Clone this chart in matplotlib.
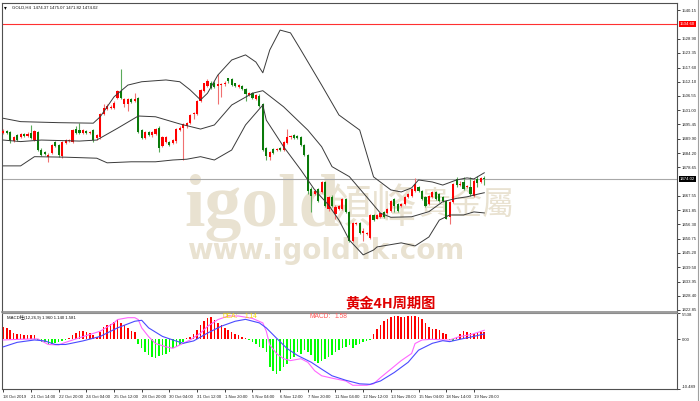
import matplotlib
matplotlib.use("Agg")
import matplotlib.pyplot as plt

plt.rcParams['font.family'] = ['Liberation Sans', 'Noto Sans CJK SC']

W, H = 700, 401

# GOLD H4 candles, oldest first
opens = [1491.9, 1492.7, 1492.3, 1488.9, 1491.2, 1490.4, 1491.5, 1490.8, 1491.9, 1489.3,
         1492.3, 1485.4, 1484.7, 1482.7, 1484.3, 1488.5, 1487.3, 1483.1, 1488.1, 1488.9,
         1488.5, 1493.8, 1493.1, 1491.9, 1492.7, 1491.9, 1493.1, 1490.0, 1490.4, 1499.6,
         1501.5, 1501.9, 1501.9, 1505.7, 1508.4, 1503.4, 1503.4, 1505.3, 1504.6, 1505.7,
         1493.1, 1490.0, 1492.3, 1491.2, 1491.5, 1494.2, 1487.0, 1488.5, 1488.5, 1488.1,
         1488.9, 1493.1, 1494.2, 1494.6, 1495.8, 1499.6, 1499.6, 1504.6, 1508.4, 1510.3,
         1511.8, 1511.8, 1510.3, 1510.7, 1511.1, 1513.4, 1513.0, 1511.5, 1509.9, 1510.3,
         1509.2, 1506.9, 1507.6, 1505.3, 1506.5, 1503.4, 1486.2, 1482.7, 1485.8, 1485.4,
         1486.2, 1485.4, 1488.1, 1490.4, 1491.2, 1490.8, 1490.4, 1487.3, 1483.5, 1470.1,
         1468.2, 1470.1, 1469.0, 1472.8, 1462.5, 1467.1, 1460.2, 1462.5, 1462.5, 1466.3,
         1461.3, 1449.8, 1456.3, 1456.7, 1452.9, 1452.5, 1451.0, 1459.8, 1458.6, 1459.4,
         1461.3, 1460.6, 1461.7, 1466.3, 1464.4, 1463.6, 1464.4, 1467.1, 1467.4, 1469.4,
         1470.9, 1469.4, 1467.1, 1464.4, 1467.1, 1469.0, 1468.2, 1467.1, 1465.5, 1459.4,
         1465.1, 1473.9, 1471.6, 1472.8, 1470.9, 1470.9, 1467.4, 1473.9, 1472.8, 1474.37]
highs = [1493.5, 1493.1, 1492.7, 1490.8, 1491.5, 1491.9, 1491.9, 1492.3, 1495.0, 1493.1,
         1492.7, 1486.2, 1485.0, 1484.3, 1487.7, 1488.9, 1487.7, 1488.9, 1489.6, 1489.6,
         1493.8, 1494.6, 1496.1, 1493.5, 1493.1, 1492.7, 1493.5, 1491.5, 1500.0, 1503.4,
         1503.4, 1503.0, 1504.6, 1508.8, 1517.2, 1505.7, 1505.7, 1505.7, 1507.6, 1506.1,
         1493.8, 1492.7, 1492.7, 1492.7, 1494.2, 1494.6, 1490.8, 1490.8, 1488.9, 1489.6,
         1494.2, 1494.6, 1496.1, 1496.5, 1499.6, 1500.4, 1504.9, 1509.2, 1511.8, 1513.0,
         1512.2, 1512.2, 1515.3, 1511.8, 1512.2, 1513.7, 1513.7, 1511.8, 1511.1, 1510.7,
         1509.5, 1508.0, 1508.0, 1507.2, 1507.2, 1503.8, 1486.6, 1485.0, 1486.2, 1486.2,
         1486.6, 1488.9, 1493.8, 1491.2, 1491.5, 1491.2, 1490.8, 1487.7, 1483.9, 1470.9,
         1470.1, 1470.5, 1473.2, 1473.2, 1467.4, 1467.8, 1464.0, 1464.0, 1466.7, 1466.7,
         1461.7, 1457.1, 1457.1, 1457.1, 1454.8, 1453.3, 1460.2, 1460.2, 1460.2, 1460.9,
         1461.7, 1462.9, 1465.9, 1466.7, 1464.8, 1464.8, 1467.4, 1468.6, 1470.5, 1474.3,
         1471.3, 1469.7, 1467.4, 1467.8, 1469.4, 1469.4, 1468.6, 1467.4, 1465.9, 1465.5,
         1472.4, 1474.7, 1473.2, 1474.7, 1471.6, 1474.7, 1473.9, 1475.1, 1474.7, 1475.07]
lows = [1491.5, 1491.5, 1488.1, 1488.5, 1488.9, 1490.0, 1490.4, 1490.4, 1489.6, 1488.9,
        1485.0, 1483.1, 1483.5, 1480.8, 1483.9, 1486.6, 1482.7, 1482.4, 1487.7, 1488.5,
        1488.1, 1491.5, 1491.5, 1491.5, 1491.5, 1491.5, 1488.5, 1489.3, 1489.6, 1499.2,
        1501.1, 1501.5, 1501.5, 1505.3, 1505.3, 1502.3, 1500.7, 1503.8, 1504.2, 1491.9,
        1489.6, 1489.6, 1490.8, 1490.4, 1491.2, 1484.7, 1486.6, 1488.1, 1487.0, 1487.7,
        1488.1, 1492.7, 1481.6, 1494.2, 1495.4, 1497.7, 1499.2, 1504.2, 1508.0, 1509.9,
        1509.2, 1509.5, 1503.4, 1506.1, 1510.3, 1511.8, 1510.3, 1509.9, 1509.5, 1508.8,
        1504.6, 1506.5, 1505.3, 1504.9, 1502.3, 1485.0, 1481.6, 1481.6, 1483.9, 1485.0,
        1485.0, 1485.0, 1487.7, 1489.6, 1489.6, 1489.6, 1487.0, 1483.1, 1468.2, 1461.3,
        1467.8, 1465.1, 1468.6, 1463.2, 1461.7, 1463.2, 1458.6, 1462.1, 1462.1, 1460.9,
        1449.5, 1449.5, 1456.0, 1452.5, 1449.8, 1452.1, 1450.6, 1457.5, 1458.3, 1459.0,
        1459.0, 1460.2, 1461.3, 1461.3, 1461.3, 1463.2, 1464.0, 1466.7, 1467.1, 1469.0,
        1469.0, 1465.9, 1463.2, 1464.0, 1466.7, 1465.9, 1465.1, 1465.1, 1458.3, 1456.3,
        1464.8, 1470.9, 1471.3, 1469.7, 1470.5, 1467.4, 1467.1, 1470.9, 1472.4, 1471.82]
closes = [1492.7, 1491.9, 1488.9, 1490.4, 1489.3, 1491.5, 1490.8, 1491.5, 1490.0, 1492.7,
          1485.4, 1483.5, 1483.9, 1483.5, 1487.3, 1487.0, 1483.5, 1488.5, 1489.3, 1489.3,
          1493.1, 1491.9, 1491.9, 1493.1, 1491.9, 1492.3, 1489.3, 1491.2, 1499.6, 1501.9,
          1502.6, 1502.3, 1503.8, 1508.4, 1505.7, 1505.3, 1505.3, 1504.2, 1505.3, 1492.3,
          1490.0, 1492.3, 1491.2, 1492.3, 1493.8, 1486.2, 1490.4, 1490.4, 1487.3, 1489.3,
          1493.5, 1494.2, 1495.4, 1496.1, 1499.2, 1500.0, 1504.6, 1508.8, 1511.5, 1512.2,
          1509.5, 1509.9, 1511.1, 1511.1, 1511.8, 1512.2, 1510.7, 1510.3, 1510.7, 1509.2,
          1507.2, 1507.6, 1505.7, 1506.9, 1502.6, 1485.4, 1483.1, 1484.7, 1484.3, 1485.8,
          1485.4, 1488.5, 1490.4, 1490.8, 1490.0, 1490.0, 1487.3, 1483.5, 1469.4, 1467.4,
          1469.4, 1465.5, 1472.8, 1463.6, 1467.1, 1463.6, 1463.2, 1463.6, 1466.3, 1461.3,
          1449.8, 1456.7, 1456.7, 1452.9, 1453.7, 1452.9, 1459.8, 1457.9, 1459.8, 1460.6,
          1459.4, 1462.5, 1465.5, 1463.6, 1461.7, 1464.4, 1467.1, 1468.2, 1470.1, 1472.0,
          1469.4, 1466.3, 1463.6, 1467.4, 1469.0, 1466.3, 1465.5, 1465.5, 1458.6, 1465.1,
          1472.0, 1471.6, 1472.0, 1470.1, 1471.3, 1468.2, 1473.2, 1472.4, 1474.3, 1474.02]

# Bollinger bands (20, 2) at sample bars
bb_up_idx = [0, 5, 16, 26, 28, 32, 36, 40, 47, 51, 54, 57, 59, 62, 66, 70, 73, 75, 77, 80,
             83, 86, 92, 97, 103, 107, 112, 115, 118, 120, 124, 127, 131, 134, 136, 139]
bb_up = [1497.8, 1496.5, 1496.1, 1495.9, 1498.4, 1506.2, 1510.8, 1512.1, 1512.8, 1512.1,
         1508.9, 1505.0, 1507.6, 1514.7, 1520.6, 1522.6, 1519.8, 1515.6, 1524.5, 1532.3,
         1531.2, 1524.5, 1510.8, 1499.1, 1493.2, 1474.9, 1469.8, 1469.0, 1470.6, 1473.7,
         1472.9, 1471.7, 1473.7, 1474.5, 1474.1, 1476.5]
bb_mid_idx = [0, 5, 11, 22, 27, 33, 39, 44, 51, 57, 61, 66, 72, 75, 81, 88, 92, 95, 100,
              105, 109, 112, 118, 123, 127, 131, 134, 137, 139]
bb_mid = [1489.3, 1488.7, 1489.3, 1488.9, 1489.3, 1493.9, 1498.7, 1498.4, 1495.6, 1493.6,
          1495.2, 1503.0, 1507.6, 1508.6, 1502.3, 1493.2, 1486.7, 1478.9, 1475.0, 1467.1,
          1460.7, 1459.1, 1459.3, 1461.3, 1465.2, 1466.5, 1467.1, 1468.1, 1468.7]
bb_low_idx = [0, 5, 9, 18, 27, 30, 37, 44, 49, 53, 57, 61, 66, 70, 75, 76, 81, 86, 90,
              94, 97, 100, 104, 107, 108, 115, 119, 123, 126, 129, 133, 136, 139]
bb_low = [1479.2, 1479.2, 1482.8, 1482.6, 1482.2, 1480.4, 1480.8, 1480.8, 1481.5, 1481.8,
          1482.8, 1481.5, 1485.4, 1495.2, 1503.0, 1497.1, 1486.7, 1477.6, 1469.8, 1463.9,
          1458.0, 1450.2, 1444.4, 1446.3, 1447.5, 1449.1, 1447.9, 1451.4, 1458.0, 1460.0,
          1460.0, 1461.2, 1460.8]

# MACD histogram, one value per candle
macd_hist = [2.5, 2.4, 2.0, 1.3, 1.1, 1.1, 0.95, 0.8, 0.95, 0.95,
             -0.25, -0.5, -0.65, -0.9, -0.9, -0.7, -0.5, -0.35, -0.1, 0.35,
             0.8, 1.3, 1.7, 1.8, 1.5, 1.3, 0.8, 0.55, 1.5, 2.5,
             3.0, 3.25, 3.7, 4.0, 3.45, 3.0, 2.4, 1.8, 1.5, -1.1,
             -1.9, -2.65, -3.35, -3.75, -3.95, -3.5, -3.35, -3.05, -2.65, -1.8,
             -1.6, -1.2, -0.65, 0.2, 0.55, 1.1, 2.0, 3.1, 3.85, 4.55,
             4.7, 4.15, 3.45, 3.0, 2.4, 2.0, 1.5, 1.1, 0.95, 0.55,
             0.2, -0.15, -0.5, -1.1, -1.6, -1.8, -2.65, -5.9, -6.65, -7.35,
             -6.65, -5.9, -5.2, -4.1, -3.75, -2.65, -3.05, -2.3, -2.65, -3.35,
             -4.5, -5.0, -4.5, -4.1, -3.75, -3.35, -2.65, -2.3, -1.9, -1.6,
             -1.2, -1.75, -1.2, -0.9, -0.5, -0.3, -0.15, 1.15, 2.15, 3.1,
             3.85, 4.3, 4.75, 4.9, 4.9, 4.75, 4.75, 4.9, 4.9, 4.9,
             4.75, 4.3, 3.45, 2.6, 2.15, 2.15, 1.9, 1.3, 1.15, -0.15,
             -0.3, 0.55, 1.15, 1.7, 1.45, 1.3, 1.15, 1.3, 1.45, 1.58]
# MACD lines read at sample bars
macd_idx = [0, 5, 10, 13, 16, 18, 23, 28, 32, 33, 36, 38, 39, 40, 42, 44, 47, 49, 51, 54,
            57, 59, 62, 65, 68, 72, 75, 76, 77, 79, 81, 83, 86, 88, 90, 92, 95, 99, 101,
            105, 107, 109, 112, 115, 118, 119, 121, 124, 127, 129, 132, 135, 138, 139]
macd_line = [-0.15, 0.0, 0.07, -1.1, -1.2, -0.65, 0.55, 1.7, 3.45, 4.15, 4.55, 4.55, 4.15,
             2.4, 0.55, -0.9, -1.6, -1.9, -1.2, -0.15, 1.3, 2.7, 4.15, 4.9, 4.9, 4.4, 3.45,
             1.7, -1.2, -3.05, -4.1, -4.5, -4.1, -4.85, -6.65, -7.7, -8.2, -8.8, -9.7,
             -9.7, -9.4, -8.1, -6.3, -4.5, -3.0, -0.9, -0.15, 0.0, -0.15, -0.15, 0.6, 0.95,
             1.65, 1.9]
sig_idx = [0, 4, 9, 12, 15, 18, 23, 28, 33, 38, 40, 42, 46, 49, 52, 55, 59, 63, 67, 70,
           74, 76, 79, 82, 85, 89, 92, 95, 99, 103, 106, 109, 113, 117, 120, 124, 127,
           129, 132, 135, 138, 139]
sig_line = [-1.6, -0.65, -0.15, -0.35, -1.1, -1.1, -0.35, 0.6, 2.4, 3.8, 4.0, 2.4, 0.6,
            -0.15, -0.85, -0.35, 1.3, 2.75, 3.8, 4.2, 3.45, 2.4, 0.2, -1.95, -3.4, -4.85,
            -6.3, -7.7, -8.65, -9.4, -9.5, -8.8, -7.0, -4.85, -2.3, -0.85, -0.3, -0.5,
            0.0, 0.45, 0.95, 1.1]

date_labels = ['18 Oct 2019', '21 Oct 14:00', '22 Oct 20:00', '24 Oct 04:00', '25 Oct 12:00',
               '28 Oct 20:00', '30 Oct 04:00', '31 Oct 12:00', '1 Nov 20:00', '5 Nov 04:00',
               '6 Nov 12:00', '7 Nov 20:00', '11 Nov 04:00', '12 Nov 12:00', '13 Nov 20:00',
               '15 Nov 04:00', '18 Nov 14:00', '19 Nov 20:00']
price_ticks = [1540.15, 1528.90, 1523.35, 1517.60, 1512.10, 1506.55, 1501.00, 1495.45,
               1489.90, 1484.20, 1478.65, 1467.55, 1461.85, 1456.30, 1450.75, 1445.20,
               1439.50, 1433.95, 1428.40, 1422.85]
alert_price = 1534.60
last_price = 1474.02

UP = '#ff0000'
DOWN = '#0a7a0a'
SMALL = 3.1

fig = plt.figure(figsize=(W / 100, H / 100), dpi=100)
fig.patch.set_facecolor('white')


def fbox(x0, y0, x1, y1):
    # pixel box (top-left origin) -> figure fraction rect
    return [x0 / W, 1 - y1 / H, (x1 - x0) / W, (y1 - y0) / H]


ax = fig.add_axes(fbox(2, 3, 677, 311.7))
mx = fig.add_axes(fbox(2, 313, 677, 389))
xlo, xhi = -0.38, 194.7

# watermark
wm = '#e9e2d1'
ax.text(184 / W, 1 - 226 / H, 'igold', transform=fig.transFigure, fontsize=53,
        family='Liberation Serif', weight='bold', color=wm, zorder=0)
ax.text(326 / W, 1 - 222 / H, '領峰', transform=fig.transFigure, fontsize=33,
        family='Noto Sans CJK TC', color=wm, zorder=0)
ax.text(418 / W, 1 - 214 / H, '貴金屬', transform=fig.transFigure, fontsize=23,
        family='Noto Sans CJK TC', color=wm, zorder=0)
ax.text(187 / W, 1 - 259 / H, 'www.igoldhk.com', transform=fig.transFigure, fontsize=20,
        family='DejaVu Sans', weight='bold', color=wm, zorder=0)

n = len(closes)
xs = list(range(n))
for i in xs:
    o, h, l, c = opens[i], highs[i], lows[i], closes[i]
    up = c >= o
    col = UP if up else DOWN
    wick = '#f07070' if up else '#5aaa5a'
    ax.vlines(i, l, h, color=wick, lw=0.8, zorder=2)
    ax.bar(i, max(abs(c - o), 0.25), bottom=min(o, c), width=0.62, color=col,
           lw=0, zorder=3)

for idx, vals in ((bb_up_idx, bb_up), (bb_mid_idx, bb_mid), (bb_low_idx, bb_low)):
    ax.plot(idx, vals, color='#3a3a3a', lw=0.7, zorder=4)

ax.axhline(alert_price, color='#ff3030', lw=0.8, zorder=1)
ax.axhline(last_price, color='#a8a8a8', lw=0.8, zorder=1)

ax.set_xlim(xlo, xhi)
ax.set_ylim(1422.18, 1542.89)
ax.yaxis.tick_right()
ax.set_yticks(price_ticks)
ax.set_yticklabels(['%.2f' % p for p in price_ticks])
ax.tick_params(axis='y', length=2, width=0.6, pad=1.5, labelsize=SMALL, colors='#222222')
ax.set_xticks([])
for s in ax.spines.values():
    s.set_color('#505050')
    s.set_linewidth(0.8)
ax.spines['bottom'].set_color('#8c8c8c')
ax.spines['bottom'].set_linewidth(1.2)

ax.text(1.004, alert_price, '%.2f' % alert_price, transform=ax.get_yaxis_transform(),
        fontsize=SMALL, color='white', va='center', ha='left',
        bbox=dict(boxstyle='square,pad=0.2', fc='#ff0000', ec='none'))
ax.text(1.004, last_price, '%.2f' % last_price, transform=ax.get_yaxis_transform(),
        fontsize=SMALL, color='white', va='center', ha='left',
        bbox=dict(boxstyle='square,pad=0.2', fc='#000000', ec='none'))

ax.text(2 / 675, 0.993, '\u25be', transform=ax.transAxes, fontsize=4, va='top',
        family='DejaVu Sans')
ax.text(10 / 675, 0.993, 'GOLD,H4  1474.37 1475.07 1471.82 1474.02', transform=ax.transAxes,
        fontsize=SMALL, va='top', color='#111111')

fig.text(345 / W, 1 - 308.5 / H, '黄金4H周期图', fontsize=10.3, weight='bold', color='#e00000',
         family='Noto Sans CJK SC')

# MACD panel
hist_cols = [UP if v >= 0 else '#00ff00' for v in macd_hist]
mx.bar(xs, macd_hist, width=0.45, color=hist_cols, lw=0, zorder=2)
mx.plot(macd_idx, macd_line, color='#ff66ff', lw=0.8, zorder=3)
mx.plot(sig_idx, sig_line, color='#4a4aff', lw=0.8, zorder=3)
mx.set_xlim(xlo, xhi)
mx.set_ylim(-10.489, 5.538)
mx.yaxis.tick_right()
mx.set_yticks([5.538, 0.0, -10.489])
mx.set_yticklabels(['5.538', '0.00', '-10.489'])
labs = mx.get_yticklabels()
labs[0].set_va('top')
labs[2].set_va('bottom')
mx.tick_params(axis='y', length=2, width=0.6, pad=1.5, labelsize=SMALL, colors='#222222')
mx.set_xticks(list(range(0, 8 * len(date_labels), 8)))
mx.set_xticklabels(date_labels, ha='left')
mx.tick_params(axis='x', length=2, width=0.6, pad=2, labelsize=SMALL, colors='#222222')
for s in mx.spines.values():
    s.set_color('#505050')
    s.set_linewidth(0.8)
mx.spines['top'].set_color('#8c8c8c')

mx.text(5 / 675, 0.97, 'MACD柱(12,26,9) 1.960 1.140 1.581', transform=mx.transAxes,
        fontsize=SMALL, va='top', color='#111111')
mx.text(220 / 675, 1.0, 'DEA:', transform=mx.transAxes, fontsize=4.8, va='top',
        color='#f2d500')
mx.text(243 / 675, 1.0, '1.14', transform=mx.transAxes, fontsize=4.8, va='top',
        color='#f2d500')
mx.text(307 / 675, 1.0, 'MACD:', transform=mx.transAxes, fontsize=4.8, va='top',
        color='#ff5a5a')
mx.text(333 / 675, 1.0, '1.58', transform=mx.transAxes, fontsize=4.8, va='top',
        color='#ff5a5a')

fig.add_artist(plt.Line2D([698 / W, 698 / W], [0, 1], color='#a0a0a0', lw=0.8))

fig.savefig('out.png', dpi=100)
